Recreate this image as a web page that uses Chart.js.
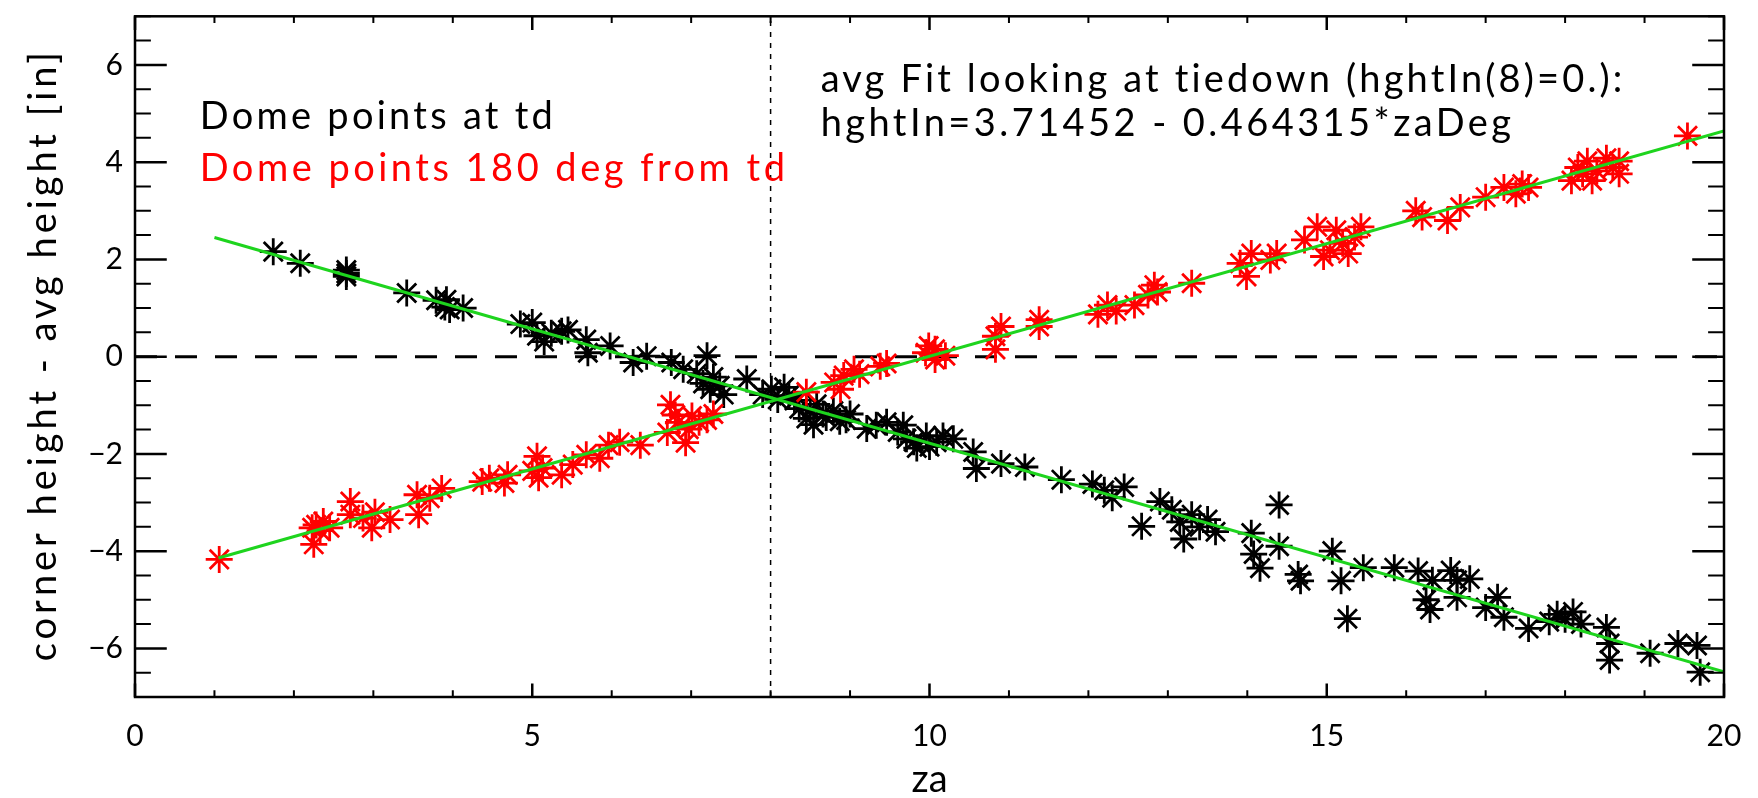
<!DOCTYPE html>
<html>
<head>
<meta charset="utf-8">
<script src="https://cdn.jsdelivr.net/npm/chart.js@4/dist/chart.umd.min.js"></script>
<style>
  html, body { margin: 0; padding: 0; background: #fff; }
  #wrap { width: 1758px; height: 798px; }
</style>
</head>
<body>
<div id="wrap"><canvas id="domeChart" width="1758" height="798"></canvas></div>
<script>
// Dome corner heights vs za

// points measured looking at the tiedown [za, height]
const tdPoints = [
    [1.74, 2.16], [2.08, 1.92], [2.66, 1.71], [2.66, 1.78], [2.66, 1.65], [3.42, 1.31],
    [3.79, 1.16], [3.90, 1.02], [3.92, 1.17], [3.96, 0.97], [4.13, 1.00], [4.85, 0.67],
    [5.00, 0.70], [5.06, 0.43], [5.15, 0.31], [5.24, 0.48], [5.37, 0.52], [5.45, 0.55],
    [5.68, 0.35], [5.70, 0.08], [5.98, 0.22], [6.27, -0.12], [6.44, 0.01], [6.75, -0.12],
    [6.90, -0.26], [7.20, 0.02], [7.07, -0.35], [7.15, -0.55], [7.28, -0.42], [7.36, -0.60],
    [7.41, -0.78], [7.24, -0.67], [7.70, -0.46], [7.90, -0.78], [8.01, -0.67], [8.09, -0.88],
    [8.17, -0.63], [8.23, -0.80], [8.30, -0.90], [8.36, -1.07], [8.45, -1.27], [8.50, -1.10],
    [8.58, -0.98], [8.66, -1.18], [8.70, -1.25], [8.79, -1.12], [8.87, -1.33], [8.54, -1.40],
    [8.95, -1.30], [9.00, -1.18], [9.21, -1.48], [9.33, -1.41], [9.46, -1.35], [9.60, -1.55],
    [9.67, -1.41], [9.71, -1.69], [9.80, -1.75], [9.84, -1.88], [9.96, -1.63], [10.00, -1.85],
    [10.09, -1.76], [10.17, -1.63], [10.30, -1.69], [10.55, -1.96], [10.59, -2.30], [10.90, -2.20],
    [11.20, -2.27], [11.66, -2.53], [12.05, -2.62], [12.20, -2.75], [12.30, -2.90], [12.45, -2.68],
    [12.67, -3.49], [12.90, -2.98], [13.05, -3.15], [13.15, -3.40], [13.20, -3.75], [13.30, -3.25],
    [13.40, -3.50], [13.50, -3.35], [13.60, -3.60], [14.05, -3.63], [14.08, -4.06], [14.16, -4.35],
    [14.40, -3.05], [14.40, -3.90], [14.64, -4.48], [14.67, -4.61], [15.07, -4.00], [15.18, -4.61],
    [15.26, -5.39], [15.46, -4.34], [15.85, -4.34], [16.15, -4.41], [16.25, -5.00], [16.30, -5.20],
    [16.33, -4.60], [16.56, -4.40], [16.64, -4.60], [16.64, -4.95], [16.80, -4.57], [17.00, -5.16],
    [17.15, -4.95], [17.23, -5.36], [17.54, -5.59], [17.80, -5.45], [17.90, -5.30], [18.00, -5.40],
    [18.10, -5.25], [18.20, -5.50], [18.52, -5.57], [18.56, -5.90], [18.56, -6.24], [19.07, -6.10],
    [19.42, -5.90], [19.66, -5.94], [19.70, -6.49]
];

// points 180 deg from the tiedown [za, height]
const oppPoints = [
    [1.06, -4.17], [2.25, -3.86], [2.23, -3.52], [2.28, -3.46], [2.37, -3.39], [2.45, -3.52],
    [2.33, -3.58], [2.71, -2.98], [2.71, -3.25], [2.87, -3.32], [2.98, -3.52], [3.02, -3.20],
    [3.21, -3.35], [3.55, -2.84], [3.57, -3.25], [3.71, -2.91], [3.86, -2.71], [4.37, -2.57],
    [4.46, -2.50], [4.69, -2.43], [4.65, -2.60], [5.06, -2.05], [5.00, -2.35], [5.08, -2.49],
    [5.13, -2.29], [5.37, -2.43], [5.51, -2.22], [5.68, -2.02], [5.85, -2.09], [5.96, -1.82],
    [6.10, -1.76], [6.36, -1.82], [6.74, -0.99], [6.70, -1.56], [6.80, -1.20], [6.84, -1.35],
    [6.93, -1.77], [6.97, -1.49], [7.01, -1.22], [7.10, -1.35], [7.20, -1.30], [7.28, -1.18],
    [8.45, -0.73], [8.80, -0.53], [8.88, -0.67], [8.92, -0.39], [9.05, -0.26], [9.12, -0.36],
    [9.38, -0.20], [9.46, -0.14], [9.95, 0.08], [9.99, 0.22], [10.07, 0.15], [10.07, -0.06],
    [10.20, 0.02], [10.83, 0.42], [10.83, 0.15], [10.90, 0.62], [11.38, 0.76], [11.38, 0.62],
    [12.12, 0.87], [12.24, 1.06], [12.35, 0.94], [12.58, 1.06], [12.75, 1.27], [12.83, 1.47],
    [12.87, 1.33], [13.30, 1.51], [13.91, 1.92], [13.99, 1.65], [14.05, 2.12], [14.29, 1.99],
    [14.37, 2.12], [14.72, 2.40], [14.88, 2.67], [14.96, 2.06], [15.04, 2.19], [15.12, 2.60],
    [15.20, 2.33], [15.27, 2.12], [15.35, 2.46], [15.43, 2.67], [16.12, 3.00], [16.20, 2.87],
    [16.52, 2.80], [16.68, 3.07], [17.00, 3.28], [17.23, 3.48], [17.38, 3.35], [17.46, 3.55],
    [17.54, 3.48], [18.08, 3.62], [18.16, 3.89], [18.22, 3.76], [18.28, 4.02], [18.34, 3.62],
    [18.40, 3.82], [18.52, 4.08], [18.60, 3.89], [18.68, 4.02], [18.68, 3.76], [19.54, 4.54]
];

// green fit lines (end points)
const fitTdZa = [1.0, 20];
const fitTdHgt = [2.45, -6.48];
const fitOppZa = [1.05, 20];
const fitOppHgt = [-4.14, 4.64];

// reference lines
const zeroZa = [0, 20];
const zeroHgt = [0, 0];
const tiedownZa = [8, 8];
const tiedownHgt = [-7, 7];

// axes
const xMajor = [0, 5, 10, 15, 20];
const xMinorStep = 1;
const yMajor = [-6, -4, -2, 0, 2, 4, 6];
const yMinorStep = 0.5;
const xTitle = 'za';
const yTitle = 'corner height - avg height [in]';

// text annotations: [text, za start, za end, height of baseline, colour]
const notes = [
    ['Dome points at td', 0.815, 5.26, 4.69, '#000'],
    ['Dome points 180 deg from td', 0.815, 8.18, 3.61, '#ff0000'],
    ['avg Fit looking at tiedown (hghtIn(8)=0.):', 8.63, 18.73, 5.45, '#000'],
    ['hghtIn=3.71452 - 0.464315*zaDeg', 8.63, 17.32, 4.53, '#000']
];

const toXY = pts => pts.map(p => ({ x: p[0], y: p[1] }));
const zip = (xs, ys) => xs.map((v, i) => ({ x: v, y: ys[i] }));

const FONT = 'Lato';
const TEXT_FONT = `400 38px ${FONT}`;

// stretch a string with letter spacing so it covers the given length
function fittedText(ctx, txt, x0, y0, len) {
    ctx.letterSpacing = '0px';
    const w = ctx.measureText(txt).width;
    const sp = (len - w) / Math.max(1, txt.length - 1);
    ctx.letterSpacing = sp.toFixed(2) + 'px';
    ctx.fillText(txt, x0, y0);
    ctx.letterSpacing = '0px';
}

// IDL style box with inward ticks on all four sides, axis titles and annotations
const idlFrame = {
    id: 'idlFrame',
    beforeDraw(chart) {
        chart.ctx.letterSpacing = '0px';
    },
    afterDraw(chart) {
        const { ctx, chartArea: a, scales: { x, y } } = chart;
        ctx.save();
        ctx.strokeStyle = '#000';
        ctx.lineCap = 'butt';

        const yLen = (a.right - a.left) * 0.02;
        const xLen = (a.bottom - a.top) * 0.02;

        const xTick = (v, len) => {
            const px = x.getPixelForValue(v);
            ctx.beginPath();
            ctx.moveTo(px, a.bottom); ctx.lineTo(px, a.bottom - len);
            ctx.moveTo(px, a.top); ctx.lineTo(px, a.top + len);
            ctx.stroke();
        };
        const yTick = (v, len) => {
            const py = y.getPixelForValue(v);
            ctx.beginPath();
            ctx.moveTo(a.left, py); ctx.lineTo(a.left + len, py);
            ctx.moveTo(a.right, py); ctx.lineTo(a.right - len, py);
            ctx.stroke();
        };

        ctx.lineWidth = 2;
        for (let v = x.min; v <= x.max + 1e-9; v += xMinorStep) {
            if (!xMajor.includes(v)) xTick(v, xLen / 2);
        }
        for (let v = y.min; v <= y.max + 1e-9; v += yMinorStep) {
            if (!yMajor.includes(v)) yTick(v, yLen / 2);
        }
        ctx.lineWidth = 2.5;
        xMajor.forEach(v => xTick(v, xLen));
        yMajor.forEach(v => yTick(v, yLen));
        ctx.strokeRect(a.left, a.top, a.right - a.left, a.bottom - a.top);

        ctx.font = TEXT_FONT;
        ctx.textAlign = 'left';
        ctx.textBaseline = 'alphabetic';
        notes.forEach(([txt, z0, z1, h, col]) => {
            ctx.fillStyle = col;
            const px0 = x.getPixelForValue(z0);
            fittedText(ctx, txt, px0, y.getPixelForValue(h), x.getPixelForValue(z1) - px0);
        });

        // axis titles
        ctx.fillStyle = '#000';
        ctx.textAlign = 'center';
        ctx.fillText(xTitle, (a.left + a.right) / 2, chart.height - 6);

        const yLenTitle = 609;
        ctx.translate(56, (a.top + a.bottom) / 2);
        ctx.rotate(-Math.PI / 2);
        ctx.textAlign = 'left';
        fittedText(ctx, yTitle, -yLenTitle / 2, 0, yLenTitle);
        ctx.restore();
    }
};

const tickFont = { family: FONT, size: 30, weight: 400 };
const fmtTick = v => (v < 0 ? '\u2212' + Math.abs(v) : String(v));

new Chart(document.getElementById('domeChart'), {
    type: 'scatter',
    data: {
        datasets: [
            {
                label: 'fit td',
                data: zip(fitTdZa, fitTdHgt),
                showLine: true,
                borderColor: '#1ed41e',
                borderWidth: 3,
                pointRadius: 0,
                order: 0
            },
            {
                label: 'fit 180',
                data: zip(fitOppZa, fitOppHgt),
                showLine: true,
                borderColor: '#1ed41e',
                borderWidth: 3,
                pointRadius: 0,
                order: 0
            },
            {
                label: 'Dome points 180 deg from td',
                data: toXY(oppPoints),
                pointStyle: 'star',
                pointRadius: 13.5,
                pointBorderWidth: 2.8,
                pointBorderColor: '#ff0000',
                pointBackgroundColor: '#ff0000',
                order: 1
            },
            {
                label: 'Dome points at td',
                data: toXY(tdPoints),
                pointStyle: 'star',
                pointRadius: 13.5,
                pointBorderWidth: 2.8,
                pointBorderColor: '#000',
                pointBackgroundColor: '#000',
                order: 2
            },
            {
                label: 'zero',
                data: zip(zeroZa, zeroHgt),
                showLine: true,
                borderColor: '#000',
                borderWidth: 3,
                borderDash: [22, 18],
                pointRadius: 0,
                order: 3
            },
            {
                label: 'tiedown',
                data: zip(tiedownZa, tiedownHgt),
                showLine: true,
                borderColor: '#000',
                borderWidth: 1.5,
                borderDash: [5, 6],
                pointRadius: 0,
                order: 3
            }
        ]
    },
    options: {
        responsive: false,
        animation: false,
        devicePixelRatio: 1,
        layout: { padding: { top: 11, right: 34, left: 0, bottom: 0 } },
        plugins: {
            legend: { display: false },
            tooltip: { enabled: false }
        },
        scales: {
            x: {
                type: 'linear',
                min: 0,
                max: 20,
                afterBuildTicks: s => { s.ticks = xMajor.map(v => ({ value: v })); },
                afterFit: s => { s.height = 101; s.paddingLeft = 0; s.paddingRight = 0; },
                grid: { display: false, drawTicks: false },
                border: { display: false },
                ticks: { font: tickFont, color: '#000', padding: 21, maxRotation: 0, autoSkip: false, callback: fmtTick }
            },
            y: {
                type: 'linear',
                min: -7,
                max: 7,
                afterBuildTicks: s => { s.ticks = yMajor.map(v => ({ value: v })); },
                afterFit: s => { s.width = 135; s.paddingTop = 0; s.paddingBottom = 0; },
                grid: { display: false, drawTicks: false },
                border: { display: false },
                ticks: { font: tickFont, color: '#000', padding: 12, autoSkip: false, callback: fmtTick }
            }
        }
    },
    plugins: [idlFrame]
});
</script>
</body>
</html>
